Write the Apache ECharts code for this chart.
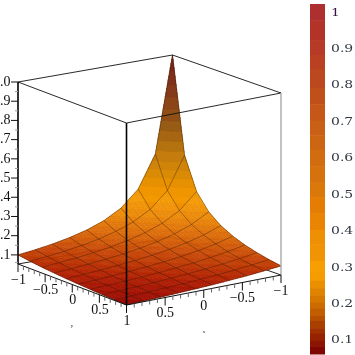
<!DOCTYPE html>
<html>
<head>
<meta charset="utf-8">
<script src="https://cdn.jsdelivr.net/npm/echarts@6/dist/echarts.min.js"></script>
<style>html,body{margin:0;padding:0;background:#fff}#chart{width:355px;height:355px}</style>
</head>
<body>
<div id="chart"></div>
<script>
// surface heights, row = left edge axis, column = right edge axis
var gridA = [-1, -0.778, -0.556, -0.333, -0.111, 0.111, 0.333, 0.556, 0.778, 1]
var gridB = [-1, -0.778, -0.556, -0.333, -0.111, 0.111, 0.333, 0.556, 0.778, 1]
var row0 = [1.00, 0.50, 0.333, 0.25, 0.20, 0.167, 0.143, 0.125, 0.111, 0.100]
var row1 = [0.50, 0.333, 0.25, 0.20, 0.167, 0.143, 0.125, 0.111, 0.100, 0.091]
var row2 = [0.333, 0.25, 0.20, 0.167, 0.143, 0.125, 0.111, 0.100, 0.091, 0.083]
var row3 = [0.25, 0.20, 0.167, 0.143, 0.125, 0.111, 0.100, 0.091, 0.083, 0.077]
var row4 = [0.20, 0.167, 0.143, 0.125, 0.111, 0.100, 0.091, 0.083, 0.077, 0.071]
var row5 = [0.167, 0.143, 0.125, 0.111, 0.100, 0.091, 0.083, 0.077, 0.071, 0.067]
var row6 = [0.143, 0.125, 0.111, 0.100, 0.091, 0.083, 0.077, 0.071, 0.067, 0.063]
var row7 = [0.125, 0.111, 0.100, 0.091, 0.083, 0.077, 0.071, 0.067, 0.063, 0.059]
var row8 = [0.111, 0.100, 0.091, 0.083, 0.077, 0.071, 0.067, 0.063, 0.059, 0.056]
var row9 = [0.100, 0.091, 0.083, 0.077, 0.071, 0.067, 0.063, 0.059, 0.056, 0.053]
var zRows = [row0, row1, row2, row3, row4, row5, row6, row7, row8, row9]

// colour bands of the surface
var surfaceLevels = [0.05, 0.056, 0.062, 0.068, 0.075, 0.082, 0.09, 0.098, 0.107, 0.117, 0.13, 0.145, 0.16, 0.18, 0.2, 0.22, 0.25, 0.28, 0.31, 0.35, 0.39, 0.43, 0.47, 0.52, 0.57, 0.62, 0.67, 0.73, 0.79, 0.85, 0.92, 1.01]
var surfaceColors = ['#960600', '#9e0c00', '#a61200', '#ac1900', '#b22100', '#b62900', '#bc3200', '#c03c02', '#c44204', '#c94b05', '#cf5605', '#d56005', '#db6a06', '#e07406', '#e67e05', '#eb8804', '#f09003', '#f39800', '#ef9600', '#e59002', '#d98a06', '#cf840a', '#c47c0c', '#b4720f', '#a66611', '#985a14', '#8f4e16', '#8a4417', '#843a18', '#7e3019', '#76261a']

// colour bar bands
var barTops = [1.02, 0.975, 0.92, 0.88, 0.84, 0.79, 0.745, 0.70, 0.66, 0.62, 0.575, 0.53, 0.49, 0.445, 0.40, 0.36, 0.315, 0.285, 0.26, 0.24, 0.22, 0.20, 0.185, 0.165, 0.15, 0.13, 0.115, 0.095, 0.08]
var barColors = ['#ae2f2f', '#b33329', '#b63a26', '#b94122', '#bc481f', '#c0501b', '#c55818', '#c96015', '#cd6613', '#d26c11', '#d6720e', '#db780a', '#e57d05', '#ea8403', '#ee8f04', '#f19404', '#f79e00', '#f59c00', '#ea8f00', '#e08400', '#d67800', '#cc6c00', '#c25e00', '#b65000', '#aa4000', '#a03000', '#962200', '#8c1400', '#800600']
var barMin = 0.059
var barMax = 1.02
var barTicks = [1, 0.9, 0.8, 0.7, 0.6, 0.5, 0.4, 0.3, 0.2, 0.1]

// axis ticks
var zTicks = [1, 0.95, 0.9, 0.85, 0.8, 0.75, 0.7, 0.65, 0.6, 0.55, 0.5, 0.45, 0.4, 0.35, 0.3, 0.25, 0.2, 0.15, 0.1, 0.06]
var zLabels = [1, 0.9, 0.8, 0.7, 0.6, 0.5, 0.4, 0.3, 0.2, 0.1]
var floorTicks = [-1, -0.9, -0.8, -0.7, -0.6, -0.5, -0.4, -0.3, -0.2, -0.1, 0, 0.1, 0.2, 0.3, 0.4, 0.5, 0.6, 0.7, 0.8, 0.9, 1]
var floorLabels = [-1, -0.5, 0, 0.5, 1]

var zMin = 0.0526

// view: where the box corners land
function project(a, b, z) {
  var ta = (1 - a) / 2
  var tb = (1 - b) / 2
  var u = 126.5 - 108.5 * ta + 154.5 * tb
  var v = 305 - 41 * ta - 30 * tb + 3 * ta * tb
  return [u, v - (z - zMin) / (1 - zMin) * 182]
}

function numText(v) {
  return String(v).replace('-', '\u2212')
}

function bandClip(poly, level, keepAbove) {
  var out = []
  for (var i = 0; i < poly.length; i++) {
    var p = poly[i]
    var q = poly[(i + 1) % poly.length]
    var pIn = keepAbove ? p[2] >= level : p[2] <= level
    var qIn = keepAbove ? q[2] >= level : q[2] <= level
    if (pIn) out.push(p)
    if (pIn !== qIn) {
      var t = (level - p[2]) / (q[2] - p[2])
      out.push([p[0] + (q[0] - p[0]) * t, p[1] + (q[1] - p[1]) * t, level])
    }
  }
  return out
}

function pushBands(children, api, tri) {
  var zs = [tri[0][2], tri[1][2], tri[2][2]]
  var lo = Math.min.apply(null, zs)
  var hi = Math.max.apply(null, zs)
  for (var k = 0; k < surfaceColors.length; k++) {
    if (surfaceLevels[k + 1] < lo || surfaceLevels[k] > hi) continue
    var poly = bandClip(bandClip(tri, surfaceLevels[k], true), surfaceLevels[k + 1], false)
    if (poly.length < 3) continue
    var pts = poly.map(function (p) { return api.coord(project(p[0], p[1], p[2])) })
    children.push({
      type: 'polygon',
      shape: { points: pts },
      style: { fill: surfaceColors[k], stroke: surfaceColors[k], lineWidth: 0.4, lineJoin: 'bevel' }
    })
  }
}

function renderCell(params, api) {
  var i = api.value(0)
  var j = api.value(1)
  // steep cells near the peak get a finer split so the bands stay smooth
  var sub = i + j < 2 ? 24 : 6
  var a0 = gridA[i], a1 = gridA[i + 1], b0 = gridB[j], b1 = gridB[j + 1]
  var z00 = zRows[i][j], z01 = zRows[i][j + 1], z10 = zRows[i + 1][j], z11 = zRows[i + 1][j + 1]
  function pt(s, t) {
    var z = z00 * (1 - s) * (1 - t) + z01 * (1 - s) * t + z10 * s * (1 - t) + z11 * s * t
    return [a0 + (a1 - a0) * s, b0 + (b1 - b0) * t, z]
  }
  var children = []
  for (var m = 0; m < sub; m++) {
    for (var n = 0; n < sub; n++) {
      var p00 = pt(m / sub, n / sub), p01 = pt(m / sub, (n + 1) / sub)
      var p10 = pt((m + 1) / sub, n / sub), p11 = pt((m + 1) / sub, (n + 1) / sub)
      pushBands(children, api, [p00, p01, p11])
      pushBands(children, api, [p00, p11, p10])
    }
  }
  return { type: 'group', children: children }
}

function lineEl(api, p0, p1, width, color) {
  var s = api.coord(project(p0[0], p0[1], p0[2]))
  var e = api.coord(project(p1[0], p1[1], p1[2]))
  return {
    type: 'line',
    shape: { x1: s[0], y1: s[1], x2: e[0], y2: e[1] },
    style: { stroke: color, lineWidth: width }
  }
}

function renderMesh(params, api) {
  var children = []
  zRows.forEach(function (row, i) {
    row.forEach(function (z, j) {
      if (j < 9) children.push(lineEl(api, [gridA[i], gridB[j], z], [gridA[i], gridB[j + 1], row[j + 1]], 0.7, 'rgba(50,20,0,0.55)'))
      if (i < 9) children.push(lineEl(api, [gridA[i], gridB[j], z], [gridA[i + 1], gridB[j], zRows[i + 1][j]], 0.7, 'rgba(50,20,0,0.55)'))
    })
  })
  return { type: 'group', children: children }
}

// floor edges that sit behind the surface
function renderBack(params, api) {
  return {
    type: 'group',
    children: [
      lineEl(api, [-1, 1, zMin], [-1, -1, zMin], 1, '#222'),
      lineEl(api, [1, -1, zMin], [-1, -1, zMin], 1, '#222')
    ]
  }
}

function labelEl(pos, text, align, size) {
  return {
    type: 'text',
    x: pos[0],
    y: pos[1],
    style: {
      text: text,
      align: align,
      verticalAlign: 'middle',
      fill: '#111',
      font: size + 'px "Liberation Serif", serif'
    }
  }
}

function renderFrame(params, api) {
  var c = []
  // top of the box
  c.push(lineEl(api, [-1, 1, 1], [-1, -1, 1], 0.9, '#111'))
  c.push(lineEl(api, [1, -1, 1], [-1, -1, 1], 0.9, '#111'))
  c.push(lineEl(api, [-1, 1, 1], [1, 1, 1], 0.9, '#111'))
  c.push(lineEl(api, [1, 1, 1], [1, -1, 1], 0.9, '#111'))
  // uprights
  c.push(lineEl(api, [-1, 1, zMin], [-1, 1, 1], 1.6, '#000'))
  c.push(lineEl(api, [1, 1, zMin], [1, 1, 1], 1.6, '#000'))
  c.push(lineEl(api, [1, -1, zMin], [1, -1, 1], 1.4, '#a8a8a8'))
  // floor axes
  c.push(lineEl(api, [-1, 1, zMin], [1, 1, zMin], 1, '#111'))
  c.push(lineEl(api, [1, 1, zMin], [1, -1, zMin], 1, '#111'))
  // left height axis
  zTicks.forEach(function (z) {
    var major = Math.abs(z * 10 - Math.round(z * 10)) < 0.01
    var p = api.coord(project(-1, 1, z))
    c.push({
      type: 'line',
      shape: { x1: p[0] - (major ? 7 : 3), y1: p[1], x2: p[0], y2: p[1] },
      style: { stroke: major ? '#111' : '#999', lineWidth: 1 }
    })
  })
  zLabels.forEach(function (z) {
    var p = api.coord(project(-1, 1, z))
    c.push(labelEl([p[0] - 7.5, p[1]], z.toFixed(1), 'right', 14))
  })
  // floor ticks and labels
  floorTicks.forEach(function (t) {
    var major = floorLabels.indexOf(t) >= 0
    var len = major ? 8 : 4
    var p = api.coord(project(t, 1, zMin))
    c.push({ type: 'line', shape: { x1: p[0], y1: p[1], x2: p[0], y2: p[1] + len }, style: { stroke: major ? '#111' : '#666', lineWidth: 1 } })
    var q = api.coord(project(1, t, zMin))
    c.push({ type: 'line', shape: { x1: q[0], y1: q[1], x2: q[0], y2: q[1] + len }, style: { stroke: major ? '#111' : '#666', lineWidth: 1 } })
  })
  floorLabels.forEach(function (t) {
    var p = api.coord(project(t, 1, zMin))
    c.push(labelEl([p[0] + 0.5, p[1] + 16], numText(t), 'center', 14))
    if (t !== 1) {
      var q = api.coord(project(1, t, zMin))
      c.push(labelEl([q[0], q[1] + 16], numText(t), 'center', 14))
    }
  })
  c.push(labelEl(api.coord([72, 326]), 'y', 'center', 5))
  c.push(labelEl(api.coord([204, 332]), 'x', 'center', 5))
  return { type: 'group', children: c }
}

function renderBarBand(params, api) {
  var k = api.value(0)
  var top = api.coord([0, barTops[k]])
  var bot = api.coord([1, k + 1 < barTops.length ? barTops[k + 1] : barMin])
  return {
    type: 'rect',
    shape: { x: top[0], y: top[1], width: bot[0] - top[0], height: bot[1] - top[1] + 0.5 },
    style: { fill: barColors[k] }
  }
}

function renderBarLabel(params, api) {
  var v = api.value(0)
  var p = api.coord([1, v])
  return {
    type: 'text',
    x: p[0] + 6,
    y: p[1] + 1.5,
    scaleX: 1.27,
    style: {
      text: String(v),
      align: 'left',
      verticalAlign: 'middle',
      fill: v === 1 ? '#3a1040' : '#333a44',
      font: '11px "DejaVu Serif", serif'
    }
  }
}

var cells = []
for (var i = 0; i < 9; i++) {
  for (var j = 0; j < 9; j++) cells.push([i, j])
}
cells.sort(function (p, q) { return (p[0] + p[1]) - (q[0] + q[1]) })

var chart = echarts.init(document.getElementById('chart'), null, { renderer: 'canvas' })
chart.setOption({
  animation: false,
  backgroundColor: '#fff',
  grid: [
    { left: 0, top: 0, width: 355, height: 355 },
    { left: 310, top: 4, width: 15, height: 350 }
  ],
  xAxis: [
    { gridIndex: 0, type: 'value', min: 0, max: 355, show: false },
    { gridIndex: 1, type: 'value', min: 0, max: 1, show: false }
  ],
  yAxis: [
    { gridIndex: 0, type: 'value', min: 0, max: 355, inverse: true, show: false },
    { gridIndex: 1, type: 'value', min: barMin, max: barMax, show: false }
  ],
  series: [
    { type: 'custom', xAxisIndex: 0, yAxisIndex: 0, silent: true, clip: false, data: [[0, 0]], renderItem: renderBack, z: 1 },
    { type: 'custom', xAxisIndex: 0, yAxisIndex: 0, silent: true, clip: false, data: cells, renderItem: renderCell, z: 2 },
    { type: 'custom', xAxisIndex: 0, yAxisIndex: 0, silent: true, clip: false, data: [[0, 0]], renderItem: renderMesh, z: 3 },
    { type: 'custom', xAxisIndex: 0, yAxisIndex: 0, silent: true, clip: false, data: [[0, 0]], renderItem: renderFrame, z: 4 },
    { type: 'custom', xAxisIndex: 1, yAxisIndex: 1, silent: true, clip: false, data: barTops.map(function (t, k) { return [k] }), renderItem: renderBarBand, z: 2 },
    { type: 'custom', xAxisIndex: 1, yAxisIndex: 1, silent: true, clip: false, data: barTicks.map(function (t) { return [t] }), renderItem: renderBarLabel, z: 3 }
  ]
})
</script>
</body>
</html>
